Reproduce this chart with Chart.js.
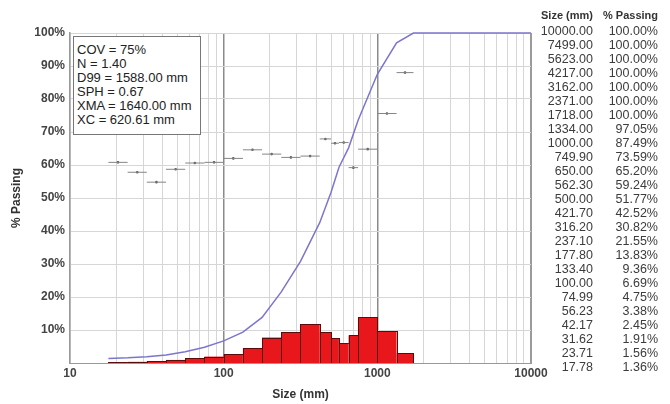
<!DOCTYPE html>
<html><head><meta charset="utf-8">
<script src="https://cdn.jsdelivr.net/npm/chart.js@4/dist/chart.umd.min.js"></script>
<style>
html,body{margin:0;padding:0;background:#fff;}
#wrap{position:relative;width:670px;height:404px;overflow:hidden;}
canvas{position:absolute;left:0;top:0;}
#box{position:absolute;left:73px;top:36px;width:128px;height:99px;box-sizing:border-box;border:1px solid #777;background:#fff;
 font:13px "Liberation Sans",Arial,sans-serif;color:#222;padding:6px 0 0 3px;line-height:14px;white-space:nowrap;}
.cell{position:absolute;font:12.5px "Liberation Sans",Arial,sans-serif;color:#3c3c3c;line-height:14px;text-align:right;white-space:nowrap;}
.hdr{font-weight:bold;font-size:11px;color:#333;}
</style></head>
<body><div id="wrap"><canvas id="c" width="670" height="404" style="width:670px;height:404px"></canvas>
<div id="box"></div><div id="tbl"></div></div>
<script>
// ---- data ----
const sizes   = [10000, 7499, 5623, 4217, 3162, 2371, 1718, 1334, 1000, 749.9, 650, 562.3, 500, 421.7, 316.2, 237.1, 177.8, 133.4, 100, 74.99, 56.23, 42.17, 31.62, 23.71, 17.78];
const passing = [100, 100, 100, 100, 100, 100, 100, 97.05, 87.49, 73.59, 65.20, 59.24, 51.77, 42.52, 30.82, 21.55, 13.83, 9.36, 6.69, 4.75, 3.38, 2.45, 1.91, 1.56, 1.36];
// bins ascending from 17.78 to 1718
const binEdges   = [17.78, 23.71, 31.62, 42.17, 56.23, 74.99, 100, 133.4, 177.8, 237.1, 316.2, 421.7, 500, 562.3, 650, 749.9, 1000, 1334, 1718];
const binPercent = [0.20, 0.35, 0.54, 0.93, 1.37, 1.94, 2.67, 4.47, 7.72, 9.27, 11.70, 9.25, 7.47, 5.96, 8.39, 13.90, 9.56, 2.95];
const markLevels = [60.8, 57.8, 54.8, 58.7, 60.6, 60.8, 62.0, 64.6, 63.3, 62.3, 62.7, 67.9, 66.6, 66.8, 59.2, 64.8, 75.6, 88.0];
const statLines  = ["COV = 75%", "N = 1.40", "D99 = 1588.00 mm", "SPH = 0.67", "XMA = 1640.00 mm", "XC = 620.61 mm"];
const xMajorTicks = [10, 100, 1000, 10000];
const yTicks = [0, 10, 20, 30, 40, 50, 60, 70, 80, 90, 100];
const tableHeaders = ["Size (mm)", "% Passing"];

// ---- text box & table ----
document.getElementById('box').innerHTML = statLines.map(s => '<div>' + s + '</div>').join('');
const tbl = document.getElementById('tbl');
function cell(txt, right, top, cls) {
  const d = document.createElement('div');
  d.className = 'cell' + (cls ? ' ' + cls : '');
  d.style.right = (670 - right) + 'px';
  d.style.top = top + 'px';
  d.textContent = txt;
  tbl.appendChild(d);
}
cell(tableHeaders[0], 593, 8, 'hdr');
cell(tableHeaders[1], 658, 8, 'hdr');
sizes.forEach((s, i) => {
  cell(s.toFixed(2), 593, 23.7 + 14 * i);
  cell(passing[i].toFixed(2) + '%', 658, 23.7 + 14 * i);
});

// ---- chart data ----
const curve = sizes.map((s, i) => ({x: s, y: passing[i]})).reverse();
const markSegs = [];
const markCenters = [];
markLevels.forEach((v, i) => {
  const lo = binEdges[i], hi = binEdges[i + 1];
  markSegs.push({x: lo, y: v}, {x: hi, y: v}, {x: hi, y: null});
  markCenters.push({x: Math.sqrt(lo * hi), y: v});
});
const xTickVals = [];
for (let d = 0; d < xMajorTicks.length - 1; d++) for (let k = 1; k < 10; k++) xTickVals.push(xMajorTicks[d] * k);
xTickVals.push(xMajorTicks[xMajorTicks.length - 1]);

const histPlugin = {
  id: 'hist',
  beforeDatasetsDraw(chart) {
    const {ctx, chartArea, scales: {x, y}} = chart;
    ctx.save();
    ctx.beginPath(); ctx.rect(chartArea.left, chartArea.top, chartArea.right - chartArea.left, chartArea.bottom - chartArea.top); ctx.clip();
    const yb = y.getPixelForValue(0);
    binPercent.forEach((v, i) => {
      const x0 = x.getPixelForValue(binEdges[i]);
      const x1 = x.getPixelForValue(binEdges[i + 1]);
      const yt = y.getPixelForValue(v);
      ctx.fillStyle = '#e8171c';
      ctx.fillRect(x0, yt, x1 - x0, yb - yt);
      ctx.strokeStyle = '#5a0c0c';
      ctx.lineWidth = 1;
      ctx.strokeRect(Math.round(x0) + 0.5, Math.round(yt) + 0.5, Math.round(x1) - Math.round(x0), yb - Math.round(yt));
    });
    ctx.restore();
  }
};

const FONT = '"Liberation Sans", Arial, sans-serif';
new Chart(document.getElementById('c'), {
  data: {
    datasets: [
      {type: 'line', data: curve, borderColor: '#7b76cc', borderWidth: 1.5, pointRadius: 0, tension: 0, order: 1, clip: false},
      {type: 'line', data: markSegs, borderColor: '#858585', borderWidth: 1, pointRadius: 0, spanGaps: false, order: 2},
      {type: 'scatter', data: markCenters, backgroundColor: '#555', borderColor: '#555', pointRadius: 1.3, borderWidth: 0, order: 3}
    ]
  },
  options: {
    responsive: false, animation: false, devicePixelRatio: 1,
    layout: {padding: {top: 33, right: 139, left: 0, bottom: 0}},
    plugins: {legend: {display: false}, tooltip: {enabled: false}},
    scales: {
      x: {
        type: 'logarithmic', min: 10, max: 10000,
        afterBuildTicks: s => { s.ticks = xTickVals.map(v => ({value: v, major: xMajorTicks.includes(v)})); },
        afterFit: s => { s.height = 41; },
        ticks: {autoSkip: false, maxRotation: 0, padding: 3, color: '#444', font: {family: FONT, size: 12, weight: 'bold'},
          callback: v => xMajorTicks.includes(v) ? String(v) : ''},
        grid: {drawTicks: false,
          color: c => { const v = c.tick && c.tick.value; return (v === 100 || v === 1000) ? '#8a8a8a' : (v === 10000 ? '#9a9a9a' : '#d6d6d6'); },
          lineWidth: c => { const v = c.tick && c.tick.value; return (v === 100 || v === 1000) ? 1.5 : (v === 10000 ? 2 : 1); }},
        border: {display: true, color: '#999', width: 1},
        title: {display: true, text: 'Size (mm)', color: '#333', font: {family: FONT, size: 12, weight: 'bold'}, padding: {top: 0, bottom: 2}}
      },
      y: {
        min: 0, max: 100,
        afterBuildTicks: s => { s.ticks = yTicks.map(v => ({value: v})); },
        afterFit: s => { s.width = 70; },
        ticks: {padding: 5, color: '#444', font: {family: FONT, size: 12, weight: 'bold'}, callback: v => v === 0 ? '' : v + '%'},
        grid: {drawTicks: false, color: '#d6d6d6'},
        border: {display: true, color: '#999', width: 1.5},
        title: {display: true, text: '% Passing', color: '#333', font: {family: FONT, size: 12, weight: 'bold'}, padding: {top: 9, bottom: 0}}
      }
    }
  },
  plugins: [histPlugin]
});
</script></body></html>
